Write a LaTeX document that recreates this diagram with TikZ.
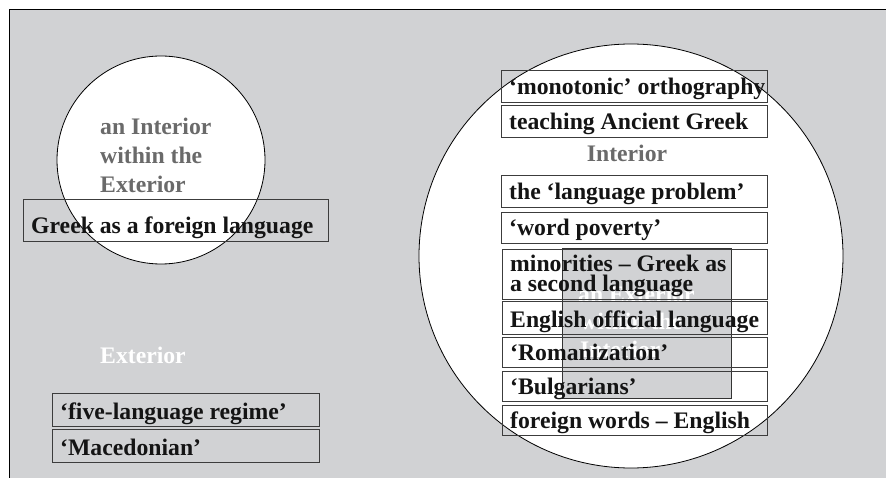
\documentclass[tikz,border=0pt]{standalone}
\usepackage{fontspec}
\setmainfont{Liberation Serif}
\definecolor{bggray}{RGB}{209,210,212}
\definecolor{lblgray}{RGB}{106,106,106}
\definecolor{boxline}{RGB}{60,60,60}
\begin{document}
\begin{tikzpicture}[x=1pt,y=-1pt,
  txt/.style={font=\fontsize{23.7}{23.7}\selectfont\bfseries, inner sep=0pt, anchor=base west, text=black!92},
  stepbox/.style={draw=boxline, line width=0.9pt, inner sep=0pt},
  ring/.style={circle, draw=black, line width=0.8pt, fill=white, inner sep=0pt},
  graylbl/.style={txt, text=lblgray},
  whitelbl/.style={txt, text=white}]
\useasboundingbox (0,0) rectangle (886,478);
% exterior frame
\fill[bggray] (9,9) rectangle (886,478);
\draw[line width=0.9pt] (9,478) -- (9,9) -- (886,9);
% circles
\node[ring, minimum size=208pt] (lc) at (161,160) {};
\node[ring, minimum size=424pt] (bc) at (631,256) {};
% left interior label
\node[graylbl] (l1) at (100,135) {an Interior};
\node[graylbl] (l2) at (100,164) {within the};
\node[graylbl] (l3) at (100,193) {Exterior};
% exterior label
\node[whitelbl] (ext) at (100,363) {Exterior};
% interior label
\node[graylbl, anchor=center] (int) at (627,153) {Interior};
% inner exterior rectangle
\node[fill=bggray, draw=black!80, line width=0.8pt, inner sep=0pt, minimum width=169pt, minimum height=150pt, anchor=north west] (ie) at (562,248) {};
\node[whitelbl] (w1) at (578,302) {an Exterior};
\node[whitelbl] (w2) at (580,330) {within the};
\node[whitelbl] (w3) at (580,357) {Interior};
% boxes
\newcommand{\bx}[6]{%
  \node[stepbox, anchor=north west, minimum width=#3-#2, minimum height=#5-#4] (#1) at (#2,#4) {};
  \node[txt] (#1t) at (#2+8,#5-7) {#6};}
\bx{gfl}{23}{328}{199}{241}{Greek as a foreign language}
\bx{mono}{501}{767}{70}{102}{‘monotonic’ orthography}
\bx{teach}{501}{767}{105}{137}{teaching Ancient Greek}
\bx{lang}{501}{767}{175}{207}{the ‘language problem’}
\bx{word}{501}{767}{212}{243}{‘word poverty’}
\node[stepbox, anchor=north west, minimum width=265, minimum height=50] (min) at (502,249) {};
\node[txt] (mint1) at (510,272) {minorities – Greek as};
\node[txt] (mint2) at (510,292) {a second language};
\bx{eng}{502}{767}{301}{334}{English official language}
\bx{rom}{502}{767}{337}{367}{‘Romanization’}
\bx{bul}{502}{767}{371}{401}{‘Bulgarians’}
\bx{forw}{502}{767}{405}{435}{foreign words – English}
\bx{five}{52}{319}{393}{426}{‘five-language regime’}
\bx{mac}{52}{319}{429}{462}{‘Macedonian’}
\end{tikzpicture}
\end{document}
